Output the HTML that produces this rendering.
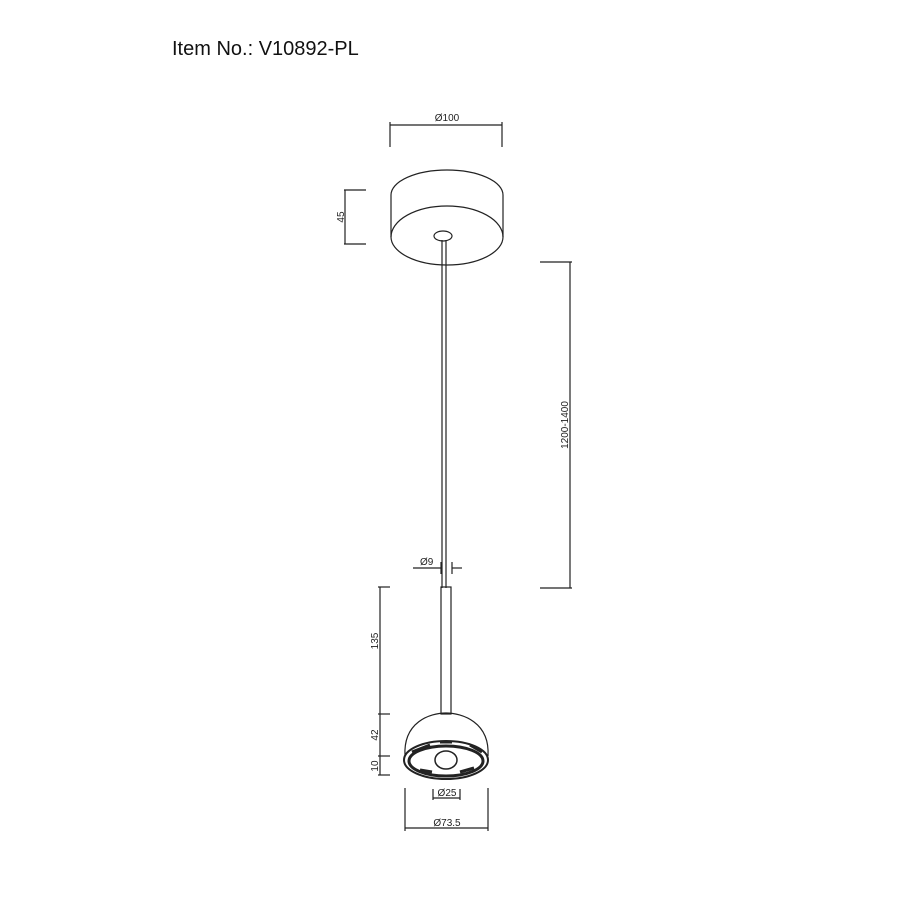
<!DOCTYPE html>
<html><head><style>body{margin:0;background:#fff}</style></head><body>
<svg width="900" height="900" viewBox="0 0 900 900" xmlns="http://www.w3.org/2000/svg" font-family="Liberation Sans, sans-serif">
<rect width="900" height="900" fill="#fff"/>
<text x="172" y="55" font-size="20" fill="#111">Item No.: V10892-PL</text>
<g stroke="#222" fill="none" stroke-width="1.2">
<line x1="390" y1="125" x2="502" y2="125"/>
<line x1="390" y1="122" x2="390" y2="147"/>
<line x1="502" y1="122" x2="502" y2="147"/>
<path d="M391 195 A56 25 0 0 1 503 195 L503 237 A56 28 0 0 1 391 237 Z"/>
<path d="M391 237 A56 31 0 0 1 503 237"/>
<ellipse cx="443" cy="236" rx="9" ry="5"/>
<line x1="345" y1="190" x2="345" y2="244"/>
<line x1="344" y1="190" x2="366" y2="190"/>
<line x1="344" y1="244" x2="366" y2="244"/>
<line x1="442" y1="240" x2="442" y2="588"/>
<line x1="446" y1="240" x2="446" y2="588"/>
<line x1="570" y1="262" x2="570" y2="588"/>
<line x1="540" y1="262" x2="572" y2="262"/>
<line x1="540" y1="588" x2="572" y2="588"/>
<line x1="413" y1="568" x2="441" y2="568"/>
<line x1="452" y1="568" x2="462" y2="568"/>
<line x1="441" y1="562" x2="441" y2="574"/>
<line x1="452" y1="562" x2="452" y2="574"/>
<rect x="441" y="587" width="10" height="127"/>
<path d="M405 756 C403 722 430 713 446 713 C462 713 490 722 488 756"/>
<ellipse cx="446" cy="760" rx="42" ry="19" stroke-width="2"/>
<ellipse cx="446" cy="761" rx="37" ry="15" stroke-width="3"/>
<path d="M412 752 L430 745 M470 745 L482 752 M440 742 L452 742 M420 770 L432 772 M460 772 L474 768" stroke-width="3"/>
<ellipse cx="446" cy="760" rx="11" ry="9" stroke-width="1.5"/>
<line x1="380" y1="587" x2="380" y2="775"/>
<line x1="378" y1="587" x2="390" y2="587"/>
<line x1="378" y1="714" x2="390" y2="714"/>
<line x1="378" y1="756" x2="390" y2="756"/>
<line x1="378" y1="775" x2="390" y2="775"/>
<line x1="433" y1="798" x2="460" y2="798"/>
<line x1="433" y1="789" x2="433" y2="800"/>
<line x1="460" y1="789" x2="460" y2="800"/>
<line x1="405" y1="828" x2="488" y2="828"/>
<line x1="405" y1="788" x2="405" y2="831"/>
<line x1="488" y1="788" x2="488" y2="831"/>
</g>
<g font-size="10" fill="#222">
<text x="447" y="121" text-anchor="middle">Ø100</text>
<text x="420" y="565">Ø9</text>
<text x="447" y="796" text-anchor="middle">Ø25</text>
<text x="447" y="826" text-anchor="middle">Ø73.5</text>
<text transform="translate(344,217) rotate(-90)" text-anchor="middle">45</text>
<text transform="translate(568,425) rotate(-90)" text-anchor="middle">1200-1400</text>
<text transform="translate(378,641) rotate(-90)" text-anchor="middle">135</text>
<text transform="translate(378,735) rotate(-90)" text-anchor="middle">42</text>
<text transform="translate(378,766) rotate(-90)" text-anchor="middle">10</text>
</g>
</svg>
</body></html>
